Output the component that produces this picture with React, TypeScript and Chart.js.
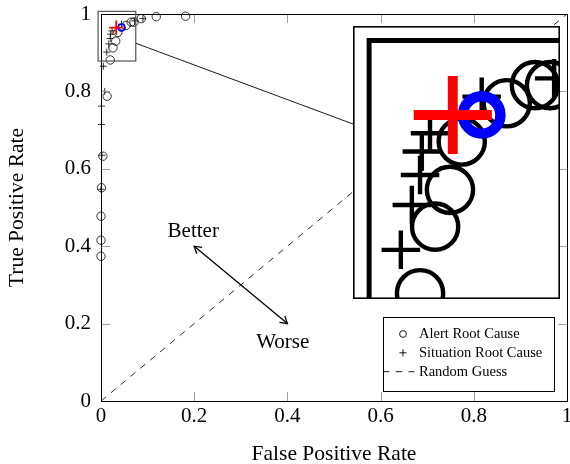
import React, { useEffect, useRef } from "react";
import { Chart, registerables } from "chart.js";

Chart.register(...registerables);

const FONT = "'Liberation Serif', 'Times New Roman', serif";

// ---- data ----
const alertFPR = [0.0, 0.0, 0.0, 0.001, 0.004, 0.013, 0.0199, 0.0258, 0.0316, 0.0362, 0.0538, 0.0648, 0.0707, 0.0864, 0.1186, 0.1815];
const alertTPR = [0.374, 0.4155, 0.4775, 0.551, 0.6326, 0.7876, 0.8812, 0.9125, 0.9298, 0.9525, 0.9705, 0.979, 0.979, 0.988, 0.993, 0.9943];
const situationFPR = [0.0, 0.002, 0.001, 0.001, 0.008, 0.005, 0.0124, 0.0167, 0.0199, 0.0206, 0.0238, 0.044, 0.0723, 0.09];
const situationTPR = [0.547, 0.635, 0.7145, 0.762, 0.8, 0.865, 0.9016, 0.9227, 0.9368, 0.9478, 0.9564, 0.9736, 0.9822, 0.988];
const bestAlertFPR = [0.044];
const bestAlertTPR = [0.965];
const bestSituationFPR = [0.0327];
const bestSituationTPR = [0.965];
const randomFPR = [0, 1];
const randomTPR = [0, 1];
const xTickValues = [0, 0.2, 0.4, 0.6, 0.8, 1];
const xTickLabels = ["0", "0.2", "0.4", "0.6", "0.8", "1"];
const yTickValues = [0, 0.2, 0.4, 0.6, 0.8, 1];
const yTickLabels = ["0", "0.2", "0.4", "0.6", "0.8", "1"];
const legendLabels = ["Alert Root Cause", "Situation Root Cause", "Random Guess"];
const annotationLabels = ["Better", "Worse"];
const spyFPR = [-0.0063, 0.0746];
const spyTPR = [0.8785, 1.0068];

const MAG = 5.5;
const INSET = { left: 353, top: 26, width: 207, height: 273 };

const zip = (xs: number[], ys: number[]) => xs.map((x, i) => ({ x, y: ys[i] }));

function buildDatasets(k: number, withLine: boolean) {
  const ds: any[] = [
    {
      label: "best situation",
      data: zip(bestSituationFPR, bestSituationTPR),
      pointStyle: "cross",
      pointRadius: 7.1 * k,
      pointBorderWidth: 1.8 * k,
      pointBorderColor: "#ff0000",
      borderColor: "#ff0000",
      pointBackgroundColor: "transparent",
      showLine: false,
      clip: false,
    },
    {
      label: "best alert",
      data: zip(bestAlertFPR, bestAlertTPR),
      pointStyle: "circle",
      pointRadius: 3.4 * k,
      pointBorderWidth: 1.9 * k,
      pointBorderColor: "#0000ff",
      borderColor: "#0000ff",
      pointBackgroundColor: "transparent",
      showLine: false,
      clip: false,
    },
    {
      label: legendLabels[1],
      data: zip(situationFPR, situationTPR),
      pointStyle: "cross",
      pointRadius: 3.5 * k,
      pointBorderWidth: 0.8 * k,
      pointBorderColor: "#000",
      borderColor: "#000",
      pointBackgroundColor: "transparent",
      showLine: false,
      clip: false,
    },
    {
      label: legendLabels[0],
      data: zip(alertFPR, alertTPR),
      pointStyle: "circle",
      pointRadius: 4.2 * k,
      pointBorderWidth: 0.8 * k,
      pointBorderColor: "#000",
      borderColor: "#000",
      pointBackgroundColor: "transparent",
      showLine: false,
      clip: false,
    },
  ];
  if (withLine) {
    ds.push({
      label: legendLabels[2],
      data: zip(randomFPR, randomTPR),
      showLine: true,
      borderColor: "#000",
      borderWidth: 0.85,
      borderDash: [6.4, 6.4],
      pointRadius: 0,
      fill: false,
    });
  }
  return ds;
}

function line(ctx: CanvasRenderingContext2D, x1: number, y1: number, x2: number, y2: number) {
  ctx.beginPath();
  ctx.moveTo(x1, y1);
  ctx.lineTo(x2, y2);
  ctx.stroke();
}

const mainDecor = {
  id: "mainDecor",
  beforeDraw(chart: any) {
    const ctx = chart.ctx;
    ctx.save();
    ctx.fillStyle = "#fff";
    ctx.fillRect(0, 0, chart.width, chart.height);
    ctx.restore();
  },
  afterDraw(chart: any) {
    const { ctx, chartArea: ca } = chart;
    const xs = chart.scales.x;
    const ys = chart.scales.y;
    ctx.save();
    // inward tick marks on all four sides
    ctx.strokeStyle = "#a0a0a0";
    ctx.lineWidth = 1;
    const L = 9;
    xTickValues.forEach((v) => {
      const px = Math.round(xs.getPixelForValue(v)) + 0.5;
      line(ctx, px, ca.bottom, px, ca.bottom - L);
      line(ctx, px, ca.top, px, ca.top + L);
    });
    yTickValues.forEach((v) => {
      const py = Math.round(ys.getPixelForValue(v)) + 0.5;
      line(ctx, ca.left, py, ca.left + L, py);
      line(ctx, ca.right, py, ca.right - L, py);
    });
    // frame
    ctx.strokeStyle = "#000";
    ctx.lineWidth = 1;
    const l = Math.round(ca.left) + 0.5;
    const t = Math.round(ca.top) + 0.5;
    const r = Math.round(ca.right) + 0.5;
    const b = Math.round(ca.bottom) + 0.5;
    ctx.strokeRect(l, t, r - l, b - t);

    // spy rectangle
    const sx1 = xs.getPixelForValue(spyFPR[0]);
    const sx2 = xs.getPixelForValue(spyFPR[1]);
    const sy1 = ys.getPixelForValue(spyTPR[1]);
    const sy2 = ys.getPixelForValue(spyTPR[0]);
    ctx.strokeStyle = "#555";
    ctx.lineWidth = 1.2;
    ctx.strokeRect(sx1, sy1, sx2 - sx1, sy2 - sy1);
    // connector from spy box to inset
    const cx = (sx1 + sx2) / 2;
    const cy = (sy1 + sy2) / 2;
    const ix = INSET.left + INSET.width / 2;
    const iy = INSET.top + INSET.height / 2;
    const dx = ix - cx;
    const dy = iy - cy;
    const tt = Math.min((sx2 - sx1) / 2 / Math.abs(dx), (sy2 - sy1) / 2 / Math.abs(dy));
    ctx.strokeStyle = "#000";
    ctx.lineWidth = 0.9;
    line(ctx, cx + dx * tt, cy + dy * tt, ix, iy);

    // Better / Worse arrow
    const ax1 = xs.getPixelForValue(0.2), ay1 = ys.getPixelForValue(0.4);
    const ax2 = xs.getPixelForValue(0.4), ay2 = ys.getPixelForValue(0.2);
    ctx.lineWidth = 1.3;
    ctx.strokeStyle = "#000";
    line(ctx, ax1, ay1, ax2, ay2);
    const head = (hx: number, hy: number, fx: number, fy: number) => {
      const ang = Math.atan2(hy - fy, hx - fx);
      const len = 8;
      const spread = 0.55;
      ctx.beginPath();
      ctx.moveTo(hx - len * Math.cos(ang - spread), hy - len * Math.sin(ang - spread));
      ctx.lineTo(hx, hy);
      ctx.lineTo(hx - len * Math.cos(ang + spread), hy - len * Math.sin(ang + spread));
      ctx.stroke();
    };
    head(ax1, ay1, ax2, ay2);
    head(ax2, ay2, ax1, ay1);
    ctx.fillStyle = "#000";
    ctx.font = `21px ${FONT}`;
    ctx.textAlign = "center";
    ctx.textBaseline = "middle";
    ctx.fillText(annotationLabels[0], xs.getPixelForValue(0.198), ys.getPixelForValue(0.4375));
    ctx.fillText(annotationLabels[1], xs.getPixelForValue(0.39), ys.getPixelForValue(0.151));

    // legend
    const bw = 170.5, bh = 74;
    const bx = ca.right - 14 - bw;
    const by = ca.bottom - 10.5 - bh;
    ctx.fillStyle = "#fff";
    ctx.fillRect(bx, by, bw, bh);
    ctx.strokeStyle = "#000";
    ctx.lineWidth = 1;
    ctx.strokeRect(Math.round(bx) + 0.5, Math.round(by) + 0.5, Math.round(bw), Math.round(bh));
    const rows = [by + 17.5, by + 36.3, by + 55.2];
    const mx = bx + 20.5;
    ctx.lineWidth = 0.9;
    ctx.beginPath();
    ctx.arc(mx, rows[0], 3.4, 0, Math.PI * 2);
    ctx.stroke();
    line(ctx, mx - 3.6, rows[1], mx + 3.6, rows[1]);
    line(ctx, mx, rows[1] - 3.6, mx, rows[1] + 3.6);
    ctx.save();
    ctx.setLineDash([6.4, 6.4]);
    line(ctx, bx + 0.5, rows[2], bx + 32, rows[2]);
    ctx.restore();
    ctx.fillStyle = "#000";
    ctx.font = `14.5px ${FONT}`;
    ctx.textAlign = "left";
    ctx.textBaseline = "middle";
    legendLabels.forEach((lab, i) => ctx.fillText(lab, bx + 36.5, rows[i] + 0.5));
    ctx.restore();
  },
};

const insetDecor = {
  id: "insetDecor",
  beforeDraw(chart: any) {
    const ctx = chart.ctx;
    ctx.save();
    ctx.fillStyle = "#fff";
    ctx.fillRect(0, 0, chart.width, chart.height);
    ctx.restore();
  },
  beforeDatasetsDraw(chart: any) {
    const { ctx } = chart;
    const xs = chart.scales.x;
    const ys = chart.scales.y;
    const x0 = xs.getPixelForValue(0);
    const y1 = ys.getPixelForValue(1);
    ctx.save();
    ctx.strokeStyle = "#000";
    ctx.lineWidth = 0.9 * MAG;
    ctx.lineCap = "square";
    ctx.beginPath();
    ctx.moveTo(x0, chart.height + 10);
    ctx.lineTo(x0, y1);
    ctx.lineTo(chart.width + 10, y1);
    ctx.stroke();
    ctx.restore();
  },
  afterDraw(chart: any) {
    const { ctx } = chart;
    ctx.save();
    ctx.strokeStyle = "#000";
    ctx.lineWidth = 1.6;
    ctx.strokeRect(0.8, 0.8, chart.width - 1.6, chart.height - 1.6);
    ctx.restore();
  },
};

export default function App() {
  const mainRef = useRef<HTMLCanvasElement>(null);
  const insetRef = useRef<HTMLCanvasElement>(null);

  useEffect(() => {
    const tickFont = { family: FONT, size: 21 };
    const titleFont = { family: FONT, size: 21.5, lineHeight: 0.9 };
    const main = new Chart(mainRef.current as HTMLCanvasElement, {
      type: "scatter",
      data: { datasets: buildDatasets(1, true) },
      options: {
        responsive: false,
        animation: false,
        devicePixelRatio: 1,
        layout: { padding: { top: 14, right: 3, bottom: 0, left: 0 }, autoPadding: false },
        plugins: { legend: { display: false }, tooltip: { enabled: false } },
        scales: {
          x: {
            type: "linear",
            position: "bottom",
            min: 0,
            max: 1,
            afterFit: (s: any) => {
              s.height = 63;
              s.paddingLeft = 0;
              s.paddingRight = 0;
            },
            grid: { display: false, drawTicks: false },
            border: { display: false },
            ticks: {
              stepSize: 0.2,
              padding: 3,
              color: "#000",
              font: tickFont,
              maxRotation: 0,
              autoSkip: false,
              callback: (_v: any, i: number) => xTickLabels[i],
            },
            title: { display: true, text: "False Positive Rate", color: "#000", font: titleFont, padding: { top: 0, bottom: 0 } },
          },
          y: {
            type: "linear",
            position: "left",
            min: 0,
            max: 1,
            afterFit: (s: any) => {
              s.width = 101;
              s.paddingTop = 0;
              s.paddingBottom = 0;
            },
            grid: { display: false, drawTicks: false },
            border: { display: false },
            ticks: {
              stepSize: 0.2,
              padding: 10,
              color: "#000",
              font: tickFont,
              autoSkip: false,
              callback: (_v: any, i: number) => yTickLabels[i],
            },
            title: { display: true, text: "True Positive Rate", color: "#000", font: titleFont, padding: { top: 8, bottom: 0 } },
          },
        },
      } as any,
      plugins: [mainDecor],
    });

    const inset = new Chart(insetRef.current as HTMLCanvasElement, {
      type: "scatter",
      data: { datasets: buildDatasets(MAG, false) },
      options: {
        responsive: false,
        animation: false,
        devicePixelRatio: 1,
        layout: { padding: 0, autoPadding: false },
        plugins: { legend: { display: false }, tooltip: { enabled: false } },
        scales: {
          x: { type: "linear", display: false, min: spyFPR[0], max: spyFPR[1] },
          y: { type: "linear", display: false, min: spyTPR[0], max: spyTPR[1] },
        },
      } as any,
      plugins: [insetDecor],
    });

    return () => {
      main.destroy();
      inset.destroy();
    };
  }, []);

  return (
    <div style={{ position: "absolute", left: 0, top: 0, width: 570, height: 464, background: "#fff" }}>
      <canvas ref={mainRef} width={570} height={464} style={{ display: "block", width: 570, height: 464 }} />
      <canvas
        ref={insetRef}
        width={INSET.width}
        height={INSET.height}
        style={{ position: "absolute", left: INSET.left, top: INSET.top, width: INSET.width, height: INSET.height, display: "block" }}
      />
    </div>
  );
}
